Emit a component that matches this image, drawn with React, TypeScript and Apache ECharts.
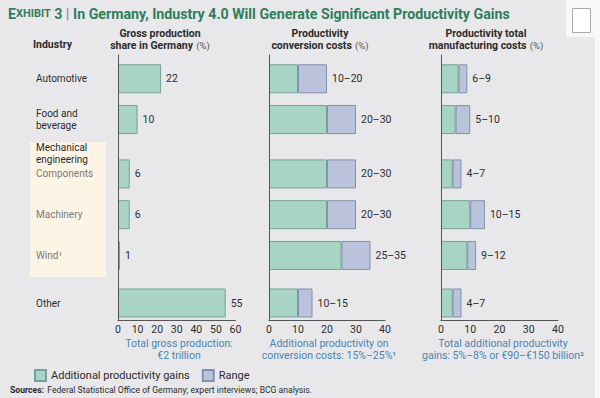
import React, { useEffect, useRef } from "react";
import * as echarts from "echarts";

// ---- data ----
const industries = ["Automotive", "Food and\nbeverage", "Components", "Machinery", "Wind¹", "Other"];
const isSubIndustry = [false, false, true, true, true, false];
const groupHeader = "Mechanical\nengineering";
const grossShare = [22, 10, 6, 6, 1, 55];
const conversionLow = [10, 20, 20, 20, 25, 10];
const conversionHigh = [20, 30, 30, 30, 35, 15];
const manufacturingLow = [6, 5, 4, 10, 9, 4];
const manufacturingHigh = [9, 10, 7, 15, 12, 7];
const grossAxisMax = 60;
const productivityAxisMax = 40;
const axisInterval = 10;

// ---- layout (row slots on a fine category axis) ----
const SLOT_COUNT = 39;
const rowSlots = [3, 9, 17, 23, 29, 36];
const headerSlot = 14;

const FONT = "Roboto";
const GREEN = "#a8d4c5";
const GREEN_BORDER = "#76a198";
const RANGE = "#bac3db";
const RANGE_BORDER = "#8090ae";
const AXIS = "#555";
const TEXT = "#2b2b2b";
const BLUE = "#4a84b2";
const TITLE_GREEN = "#2f7d5d";

function toSlots(values: number[]) {
  const arr: (number | null)[] = new Array(SLOT_COUNT).fill(null);
  values.forEach((v, i) => {
    arr[rowSlots[i]] = v;
  });
  return arr;
}
const slotKeys = Array.from({ length: SLOT_COUNT }, (_, i) => "s" + i);

function rowLabel(_: string, idx: number) {
  const r = rowSlots.indexOf(idx);
  if (r >= 0) {
    const style = isSubIndustry[r] ? "sub" : "main";
    return industries[r].split("\n").map((l) => `{${style}|${l}}`).join("\n");
  }
  if (idx === headerSlot) return groupHeader.split("\n").map((l) => `{main|${l}}`).join("\n");
  return "";
}

const grids = [
  { left: 118, top: 55, width: 117.5, height: 265 },
  { left: 269, top: 55, width: 116, height: 265 },
  { left: 441, top: 55, width: 117, height: 265 },
];

function xAxis(gridIndex: number, max: number) {
  return {
    type: "value",
    gridIndex,
    min: 0,
    max,
    interval: axisInterval,
    axisLine: { show: true, lineStyle: { color: AXIS, width: 1 } },
    axisTick: { show: false },
    splitLine: { show: false },
    axisLabel: { fontSize: 10.5, color: TEXT, margin: 4, fontFamily: FONT },
  };
}
function yAxis(gridIndex: number, showLabels: boolean) {
  return {
    type: "category",
    gridIndex,
    inverse: true,
    data: slotKeys,
    z: 3,
    axisLine: { show: true, lineStyle: { color: AXIS, width: 1 } },
    axisTick: { show: false },
    splitLine: { show: false },
    axisLabel: showLabels
      ? {
          show: true,
          interval: 0,
          align: "left",
          margin: 82,
          formatter: rowLabel,
          rich: {
            main: { fontSize: 10, color: TEXT, fontFamily: FONT, lineHeight: 12 },
            sub: { fontSize: 10, color: "#7a7a7a", fontFamily: FONT, lineHeight: 12 },
          },
        }
      : { show: false },
  };
}

const barLabel = { show: true, position: "right", distance: 5, fontSize: 10.5, color: TEXT, fontFamily: FONT };
const greenStyle = { color: GREEN, borderColor: GREEN_BORDER, borderWidth: 1 };
const rangeStyle = { color: RANGE, borderColor: RANGE_BORDER, borderWidth: 1 };

function rangeSeries(idx: number, low: number[], high: number[], stack: string) {
  return [
    {
      name: "Additional productivity gains",
      type: "bar",
      xAxisIndex: idx,
      yAxisIndex: idx,
      stack,
      barWidth: 29,
      itemStyle: greenStyle,
      data: toSlots(low),
    },
    {
      name: "Range",
      type: "bar",
      xAxisIndex: idx,
      yAxisIndex: idx,
      stack,
      barWidth: 29,
      itemStyle: rangeStyle,
      data: toSlots(high.map((h, i) => h - low[i])),
      label: {
        ...barLabel,
        formatter: (p: any) => {
          const r = rowSlots.indexOf(p.dataIndex);
          return `${low[r]}–${high[r]}`;
        },
      },
    },
  ];
}

function headerText(x: number, lines: string[], pct: boolean) {
  const txt = lines
    .map((l, i) => (i === lines.length - 1 && pct ? `{b|${l}} {n|(%)}` : `{b|${l}}`))
    .join("\n");
  return {
    type: "text",
    x,
    y: 27,
    style: {
      text: txt,
      textAlign: "center",
      textVerticalAlign: "top",
      rich: {
        b: { fontSize: 10.5, fontWeight: "bold", fill: TEXT, fontFamily: FONT, lineHeight: 12.5 },
        n: { fontSize: 9.5, fill: "#555", fontFamily: FONT, lineHeight: 12.5 },
      },
    },
  };
}

function subtitle(x: number, text: string) {
  return {
    type: "text",
    x,
    y: 337,
    style: {
      text,
      textAlign: "center",
      textVerticalAlign: "top",
      fontSize: 10.5,
      lineHeight: 12.5,
      fill: BLUE,
      fontFamily: FONT,
    },
  };
}

export default function App() {
  const ref = useRef<HTMLDivElement>(null);
  useEffect(() => {
    document.body.style.margin = "0";
    const chart = echarts.init(ref.current!, undefined, { renderer: "svg" });
    chart.setOption({
      animation: false,
      backgroundColor: "#e8e8ea",
      textStyle: { fontFamily: FONT },
      grid: grids,
      xAxis: [xAxis(0, grossAxisMax), xAxis(1, productivityAxisMax), xAxis(2, productivityAxisMax)],
      yAxis: [yAxis(0, true), yAxis(1, false), yAxis(2, false)],
      legend: {
        left: 29,
        top: 364,
        itemWidth: 11,
        itemHeight: 11,
        itemGap: 12,
        icon: "rect",
        data: ["Additional productivity gains", "Range"],
        textStyle: { fontSize: 11, color: TEXT, fontFamily: FONT },
      },
      series: [
        {
          name: "Additional productivity gains",
          type: "bar",
          xAxisIndex: 0,
          yAxisIndex: 0,
          barWidth: 29,
          itemStyle: greenStyle,
          data: toSlots(grossShare),
          label: barLabel,
        },
        ...rangeSeries(1, conversionLow, conversionHigh, "conv"),
        ...rangeSeries(2, manufacturingLow, manufacturingHigh, "mfg"),
      ],
      graphic: [
        { type: "rect", z: -10, shape: { x: 566, y: 0, width: 34, height: 37 }, style: { fill: "#f8f8f8" } },
        { type: "rect", z: -10, shape: { x: 595, y: 37, width: 5, height: 361 }, style: { fill: "#f8f8f8" } },
        { type: "rect", shape: { x: 572.5, y: 8.5, width: 18, height: 24 }, style: { fill: "#fff", stroke: "#aaa", lineWidth: 1 } },
        { type: "rect", z: -10, shape: { x: 30, y: 142, width: 76, height: 135 }, style: { fill: "#fcf4e4" } },
        {
          type: "text",
          x: 8,
          y: 6,
          style: {
            text: "{a|E}{s|XHIBIT} {a|3} {p|| }{a|In Germany, Industry 4.0 Will Generate Significant Productivity Gains}",
            textVerticalAlign: "top",
            rich: {
              a: { fontSize: 14.2, fontWeight: "bold", fill: TITLE_GREEN, fontFamily: FONT },
              s: { fontSize: 11, fontWeight: "bold", fill: TITLE_GREEN, fontFamily: FONT },
              p: { fontSize: 15, fill: "#888", fontFamily: FONT },
            },
          },
        },
        {
          type: "text",
          x: 33,
          y: 39,
          style: { text: "Industry", textVerticalAlign: "top", fontSize: 10.5, fontWeight: "bold", fill: TEXT, fontFamily: FONT },
        },
        headerText(160, ["Gross production", "share in Germany"], true),
        headerText(320, ["Productivity", "conversion costs"], true),
        headerText(486, ["Productivity total", "manufacturing costs"], true),
        subtitle(179, "Total gross production:\n€2 trillion"),
        subtitle(329, "Additional productivity on\nconversion costs: 15%–25%¹"),
        subtitle(503, "Total additional productivity\ngains: 5%–8% or €90–€150 billion²"),
        {
          type: "text",
          x: 10,
          y: 384,
          style: {
            text: "{b|Sources:} {n|Federal Statistical Office of Germany; expert interviews; BCG analysis.}",
            textVerticalAlign: "top",
            rich: {
              b: { fontSize: 8.6, fontWeight: "bold", fill: TEXT, fontFamily: FONT },
              n: { fontSize: 8.6, fill: TEXT, fontFamily: FONT },
            },
          },
        },
      ],
    });
    return () => chart.dispose();
  }, []);
  return <div ref={ref} style={{ width: 600, height: 398 }} />;
}
